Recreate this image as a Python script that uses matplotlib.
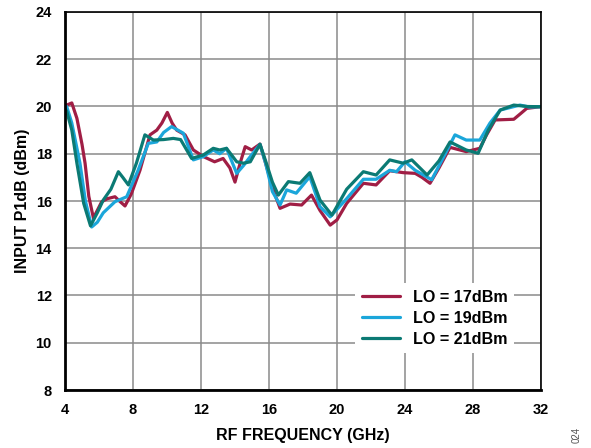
import matplotlib
matplotlib.use("Agg")
import matplotlib.pyplot as plt

plt.rcParams['font.family'] = ['Liberation Sans', 'DejaVu Sans']

# RF frequency (GHz) and input P1dB (dBm) for each LO drive level
freq_17 = [4.0, 4.1, 4.4, 4.7, 5.0, 5.18, 5.4, 5.67, 5.9, 6.16, 6.5, 6.94, 7.2, 7.53, 7.9, 8.41, 9.0, 9.4,
           9.7, 10.02, 10.3, 10.57, 11.06, 11.55, 12.14, 12.8, 13.3, 13.7, 14.0, 14.3, 14.6, 14.98,
           15.47, 15.8, 16.25, 16.65, 17.24, 17.92, 18.5, 19.0, 19.6, 20.0, 20.57, 21.55, 22.3, 23.1,
           23.9, 24.6, 25.0, 25.47, 26.0, 26.65, 27.6, 28.4, 28.8, 29.3, 30.4, 30.8, 31.16, 31.94, 32.0]
p1db_17 = [20.0, 20.06, 20.15, 19.5, 18.4, 17.6, 16.2, 15.28, 15.6, 15.97, 16.1, 16.18, 16.0, 15.79, 16.3, 17.3, 18.8, 19.0,
           19.3, 19.75, 19.3, 19.0, 18.8, 18.16, 17.88, 17.66, 17.8, 17.4, 16.8, 17.6, 18.3, 18.16,
           18.41, 17.6, 16.47, 15.69, 15.87, 15.83, 16.25, 15.6, 14.98, 15.2, 15.9, 16.75, 16.68, 17.28,
           17.2, 17.17, 17.0, 16.75, 17.4, 18.27, 18.09, 18.23, 18.8, 19.43, 19.46, 19.7, 19.92, 19.99, 20.0]

freq_19 = [4.0, 4.1, 4.4, 4.88, 5.2, 5.57, 5.9, 6.25, 6.94, 7.63, 8.3, 8.9, 9.4, 9.8, 10.27, 10.96, 11.55,
           12.14, 12.72, 13.1, 13.5, 14.1, 14.5, 14.9, 15.47, 15.8, 16.2, 16.65, 17.04, 17.6, 18.4, 19.0,
           19.6, 20.57, 21.55, 22.3, 23.1, 23.5, 24.0, 24.6, 25.57, 26.3, 26.94, 27.6, 28.4, 29.0, 29.6,
           30.76, 31.3, 31.94, 32.0]
p1db_19 = [19.9, 20.0, 19.3, 17.6, 16.0, 14.9, 15.1, 15.5, 15.97, 16.18, 17.3, 18.44, 18.5, 18.9, 19.15, 18.87, 17.74,
           17.88, 18.16, 18.0, 18.23, 17.17, 17.5, 17.88, 18.4, 17.6, 16.4, 15.83, 16.47, 16.33, 17.03, 15.76,
           15.33, 16.1, 16.92, 16.92, 17.3, 17.24, 17.66, 17.3, 16.9, 17.9, 18.8, 18.58, 18.58, 19.3, 19.85,
           20.06, 19.98, 19.99, 20.0]

freq_21 = [4.0, 4.1, 4.4, 4.7, 5.1, 5.5, 5.9, 6.25, 6.7, 7.14, 7.4, 7.73, 8.2, 8.7, 9.2, 9.8, 10.37,
           10.8, 11.45, 12.14, 12.72, 13.1, 13.5, 14.1, 14.5, 14.9, 15.47, 15.8, 16.2, 16.55, 17.14, 17.82,
           18.4, 19.0, 19.7, 20.57, 21.55, 22.3, 23.1, 23.9, 24.4, 25.3, 26.0, 26.65, 27.6, 28.3, 28.9,
           29.6, 30.4, 31.2, 31.94, 32.0]
p1db_21 = [19.9, 19.8, 19.0, 17.6, 15.9, 14.95, 15.5, 16.04, 16.5, 17.24, 17.0, 16.68, 17.6, 18.8, 18.58, 18.6, 18.65,
           18.6, 17.8, 17.95, 18.23, 18.16, 18.23, 17.66, 17.6, 17.66, 18.4, 17.7, 16.8, 16.25, 16.82, 16.75,
           17.2, 16.04, 15.4, 16.5, 17.24, 17.1, 17.74, 17.6, 17.74, 17.1, 17.7, 18.5, 18.16, 18.02, 19.0,
           19.85, 20.06, 20.0, 19.99, 20.0]

labels = ['LO = 17dBm', 'LO = 19dBm', 'LO = 21dBm']
colors = ['#A01E45', '#1BA6DA', '#0B7A74']

x_ticks = [4, 8, 12, 16, 20, 24, 28, 32]
y_ticks = [8, 10, 12, 14, 16, 18, 20, 22, 24]

fig = plt.figure(figsize=(5.91, 4.48), dpi=100)
ax = fig.add_axes([65 / 591, 1 - 390 / 448, 476 / 591, 378 / 448])

for fx, py, lab, col in zip([freq_17, freq_19, freq_21], [p1db_17, p1db_19, p1db_21], labels, colors):
    ax.plot(fx, py, color=col, lw=2.3, label=lab, solid_joinstyle='round', solid_capstyle='round')

ax.set_xlim(4, 32)
ax.set_ylim(8, 24)
ax.set_xticks(x_ticks)
ax.set_yticks(y_ticks)
ax.set_xticklabels([str(t) for t in x_ticks], fontweight='bold', fontsize=10.5)
ax.set_yticklabels([str(t) for t in y_ticks], fontweight='bold', fontsize=10.5)
ax.tick_params(axis='y', length=0, pad=9.5)
ax.tick_params(axis='x', length=0, pad=9)
ax.grid(True, color='#8a8a8a', lw=1.1)
ax.set_axisbelow(True)
for s in ['left', 'bottom']:
    ax.spines[s].set_linewidth(2.0)
for s in ['top', 'right']:
    ax.spines[s].set_linewidth(1.2)
for s in ax.spines.values():
    s.set_color('black')

ax.set_xlabel('RF FREQUENCY (GHz)', fontweight='bold', fontsize=11.5, labelpad=8)
ax.set_ylabel('INPUT P1dB (dBm)', fontweight='bold', fontsize=11.5, labelpad=4)

leg = ax.legend(loc='upper left', bbox_to_anchor=((347 - 65) / 476, 1 - (275 - 12) / 378),
                frameon=True, fancybox=False, edgecolor='white', framealpha=1.0,
                prop={'weight': 'bold', 'size': 11.6},
                handlelength=2.4, handletextpad=0.78, labelspacing=0.38, borderpad=0.4)
leg.get_frame().set_linewidth(0)

fig.text(0.975, 0.012, '024', rotation=90, fontsize=7, color='#555555', ha='center', va='bottom')

fig.savefig('out.png', dpi=100)
